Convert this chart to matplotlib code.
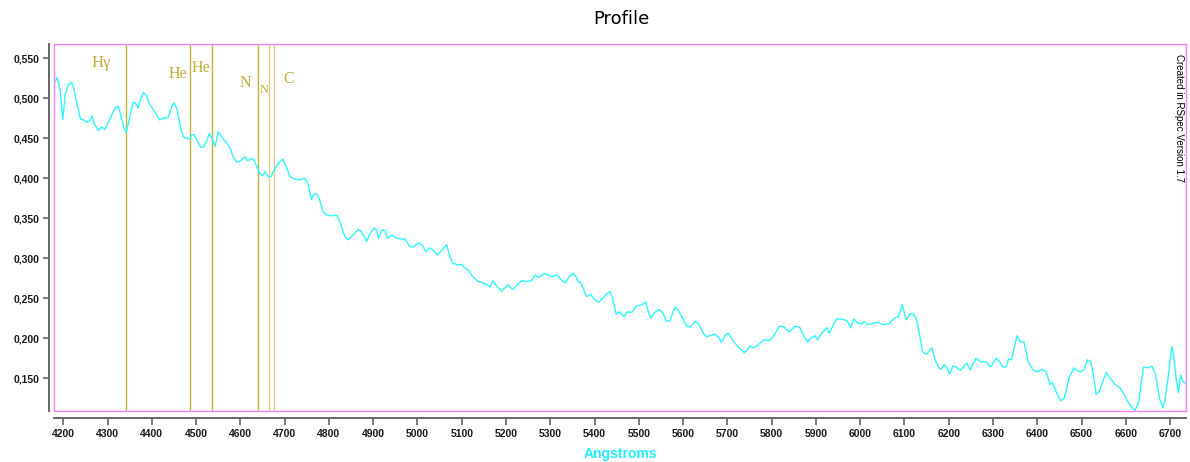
import matplotlib
matplotlib.use("Agg")
import matplotlib.pyplot as plt
from matplotlib.patches import Rectangle

# spectrum
wavelength = [
    4180, 4186, 4193, 4199, 4204, 4211, 4219, 4224, 4232, 4239, 4245, 4254, 4260, 4265, 4269, 4279,
    4287, 4294, 4306, 4317, 4324, 4330, 4337, 4342, 4349, 4357, 4362, 4369, 4373, 4381, 4387, 4396,
    4407, 4417, 4426, 4437, 4445, 4450, 4456, 4464, 4471, 4479, 4486, 4490, 4495, 4501, 4510, 4518,
    4530, 4537, 4543, 4550, 4560, 4569, 4577, 4584, 4592, 4601, 4610, 4616, 4628, 4637, 4644, 4650,
    4656, 4663, 4669, 4676, 4686, 4696, 4703, 4712, 4723, 4735,
    4746, 4753, 4761, 4765, 4771, 4778, 4787, 4795, 4806, 4814, 4819, 4827, 4836, 4844, 4854, 4866,
    4874, 4885, 4893, 4903, 4908, 4912, 4919, 4927, 4932, 4942, 4953, 4964, 4972, 4982, 4991, 5002,
    5010, 5019, 5028, 5036, 5045, 5055, 5066, 5072, 5080, 5089, 5100, 5107, 5115, 5125, 5137, 5149,
    5156, 5164, 5170, 5179, 5190, 5205, 5215, 5226, 5236, 5247, 5258, 5266, 5273, 5288, 5303, 5315,
    5322, 5333, 5343, 5352, 5358, 5363,
    5369, 5376, 5382, 5391, 5399, 5409, 5419, 5428, 5435, 5441, 5449, 5456, 5467, 5474, 5484, 5494,
    5507, 5516, 5522, 5527, 5537, 5546, 5554, 5562, 5569, 5582, 5589, 5599, 5608, 5616, 5627, 5634,
    5646, 5653, 5665, 5672, 5680, 5687, 5695, 5702, 5714, 5725, 5738, 5744, 5751, 5760, 5772, 5783,
    5795, 5806, 5817, 5828, 5840, 5853, 5863, 5872, 5881, 5888, 5898, 5903, 5913, 5925, 5930, 5938,
    5946, 5956, 5970, 5979, 5986, 5994, 6004, 6009, 6016, 6026,
    6038, 6051, 6064, 6069, 6077, 6086, 6095, 6104, 6114, 6122, 6128, 6135, 6141, 6150, 6162, 6169,
    6177, 6182, 6190, 6196, 6202, 6209, 6217, 6226, 6233, 6241, 6248, 6262, 6271, 6286, 6295, 6307,
    6316, 6322, 6330, 6335, 6342, 6354, 6361, 6370, 6380, 6391, 6400, 6412, 6420, 6429, 6435, 6444,
    6453, 6461, 6473, 6483, 6489, 6498, 6506, 6513, 6521, 6527, 6533, 6540, 6548, 6556, 6565, 6576,
    6587, 6593, 6602, 6614, 6621, 6629, 6636, 6640, 6651, 6659, 6666, 6671, 6677, 6684, 6689, 6696,
    6704, 6709, 6714, 6719, 6724, 6729, 6734,
]
flux = [
    0.519, 0.526, 0.510, 0.473, 0.504, 0.517, 0.520, 0.512, 0.490, 0.474, 0.473, 0.470, 0.472, 0.478, 0.469, 0.460,
    0.464, 0.461, 0.475, 0.488, 0.490, 0.479, 0.463, 0.457, 0.473, 0.494, 0.495, 0.488, 0.496, 0.507, 0.504, 0.492,
    0.483, 0.473, 0.475, 0.476, 0.490, 0.494, 0.488, 0.465, 0.452, 0.450, 0.449, 0.454, 0.455, 0.448, 0.439, 0.439,
    0.456, 0.448, 0.440, 0.458, 0.450, 0.444, 0.438, 0.426, 0.420, 0.422, 0.427, 0.422, 0.425, 0.415, 0.406, 0.403,
    0.408, 0.402, 0.402, 0.410, 0.419, 0.424, 0.415, 0.402, 0.399, 0.398,
    0.400, 0.392, 0.373, 0.379, 0.381, 0.375, 0.358, 0.354, 0.353, 0.354, 0.353, 0.342, 0.327, 0.323, 0.329, 0.336,
    0.333, 0.321, 0.331, 0.338, 0.335, 0.325, 0.335, 0.335, 0.325, 0.329, 0.325, 0.324, 0.324, 0.315, 0.314, 0.319,
    0.317, 0.308, 0.313, 0.310, 0.304, 0.310, 0.317, 0.304, 0.294, 0.292, 0.292, 0.288, 0.285, 0.277, 0.271, 0.269,
    0.267, 0.264, 0.272, 0.265, 0.259, 0.267, 0.261, 0.267, 0.272, 0.271, 0.272, 0.279, 0.276, 0.281, 0.277, 0.279,
    0.275, 0.269, 0.277, 0.281, 0.277, 0.271,
    0.269, 0.260, 0.252, 0.255, 0.249, 0.245, 0.250, 0.256, 0.258, 0.250, 0.230, 0.233, 0.227, 0.233, 0.232, 0.240,
    0.242, 0.245, 0.232, 0.225, 0.233, 0.236, 0.232, 0.222, 0.221, 0.239, 0.235, 0.225, 0.215, 0.214, 0.221, 0.219,
    0.206, 0.202, 0.204, 0.205, 0.201, 0.195, 0.204, 0.206, 0.196, 0.189, 0.182, 0.185, 0.190, 0.188, 0.193, 0.198,
    0.197, 0.204, 0.215, 0.214, 0.208, 0.215, 0.214, 0.204, 0.195, 0.200, 0.203, 0.198, 0.206, 0.213, 0.206, 0.215,
    0.224, 0.224, 0.222, 0.213, 0.224, 0.219, 0.218, 0.221, 0.217, 0.218,
    0.220, 0.217, 0.218, 0.220, 0.225, 0.227, 0.242, 0.223, 0.231, 0.230, 0.221, 0.202, 0.183, 0.180, 0.188, 0.173,
    0.164, 0.161, 0.167, 0.163, 0.155, 0.165, 0.164, 0.160, 0.164, 0.169, 0.160, 0.175, 0.171, 0.170, 0.164, 0.175,
    0.170, 0.164, 0.164, 0.174, 0.173, 0.203, 0.196, 0.195, 0.170, 0.160, 0.158, 0.161, 0.158, 0.142, 0.144, 0.131,
    0.122, 0.125, 0.152, 0.163, 0.160, 0.158, 0.161, 0.173, 0.171, 0.154, 0.130, 0.133, 0.146, 0.157, 0.150, 0.142,
    0.138, 0.133, 0.123, 0.113, 0.110, 0.120, 0.148, 0.164, 0.163, 0.165, 0.157, 0.142, 0.123, 0.113, 0.125, 0.152,
    0.190, 0.175, 0.148, 0.132, 0.154, 0.146, 0.144,
]

# identified lines
line_wl = [4342, 4487, 4537, 4640, 4665, 4677]
line_faint = [False, False, False, False, True, True]
label_text = ["H\u03b3", "He", "He", "N", "N", "C"]
label_wl = [4264, 4437, 4490, 4599, 4644, 4697]
label_flux = [0.5395, 0.525, 0.533, 0.5145, 0.507, 0.5195]
label_size = [12, 11.5, 11.5, 11.5, 9, 11.5]

xticks = list(range(4200, 6701, 100))
yticks = [0.150, 0.200, 0.250, 0.300, 0.350, 0.400, 0.450, 0.500, 0.550]
ytick_labels = ["0,150", "0,200", "0,250", "0,300", "0,350", "0,400", "0,450", "0,500", "0,550"]

plt.rcParams['font.family'] = ['Liberation Sans', 'DejaVu Sans']

fig = plt.figure(figsize=(11.9, 4.62), dpi=100)
ax = fig.add_axes([54/1190, 1 - 411/462, (1186-54)/1190, (411-44.3)/462])

ax.plot(wavelength, flux, color='#2EF6FF', lw=1.0, zorder=3)

for wl, faint in zip(line_wl, line_faint):
    ax.axvline(wl, color='#D8CF8A' if faint else '#C0B13C', lw=1.0, zorder=2)

for t, x, y, s in zip(label_text, label_wl, label_flux, label_size):
    ax.text(x, y, t, color='#BDAE3A', fontsize=s, family=['Liberation Serif', 'DejaVu Serif'],
            ha='left', va='baseline')

ax.set_xlim(4179, 6736)
ax.set_ylim(0.109, 0.5675)
ax.set_xticks(xticks)
ax.set_yticks(yticks)
ax.set_yticklabels(ytick_labels)

for side in ['top', 'right']:
    ax.spines[side].set_visible(False)
ax.spines['left'].set_position(('outward', 3.6))
ax.spines['bottom'].set_position(('outward', 5))
for side in ['left', 'bottom']:
    ax.spines[side].set_color('#666666')
    ax.spines[side].set_linewidth(1.4)
ax.tick_params(axis='y', direction='out', length=4.2, width=1.1, color='#555555',
               labelsize=7.5, labelcolor='#1a1a1a', pad=2.5)
ax.tick_params(axis='x', direction='out', length=4.8, width=1.1, color='#555555',
               labelsize=7.5, labelcolor='#1a1a1a', pad=3.5)
for lab in ax.get_xticklabels() + ax.get_yticklabels():
    lab.set_fontweight('bold')

# pink plot frame
ax.add_patch(Rectangle((0, 0), 1, 1, transform=ax.transAxes, fill=False,
                       ec='#FF80FF', lw=1.0, clip_on=False, zorder=4))

ax.text(0.9938, 0.9735, "Created in RSpec Version 1.7", transform=ax.transAxes,
        rotation=270, ha='center', va='top', fontsize=7, color='black')

fig.text(621/1190, 1 - 24.3/462, "Profile", ha='center', va='baseline',
         fontsize=13, family='DejaVu Sans', color='black')
fig.text(620/1190, 1 - 458/462, "Angstroms", ha='center', va='baseline',
         fontsize=10, fontweight='bold', color='#1EEEFF')

fig.savefig('out.png', dpi=100)
